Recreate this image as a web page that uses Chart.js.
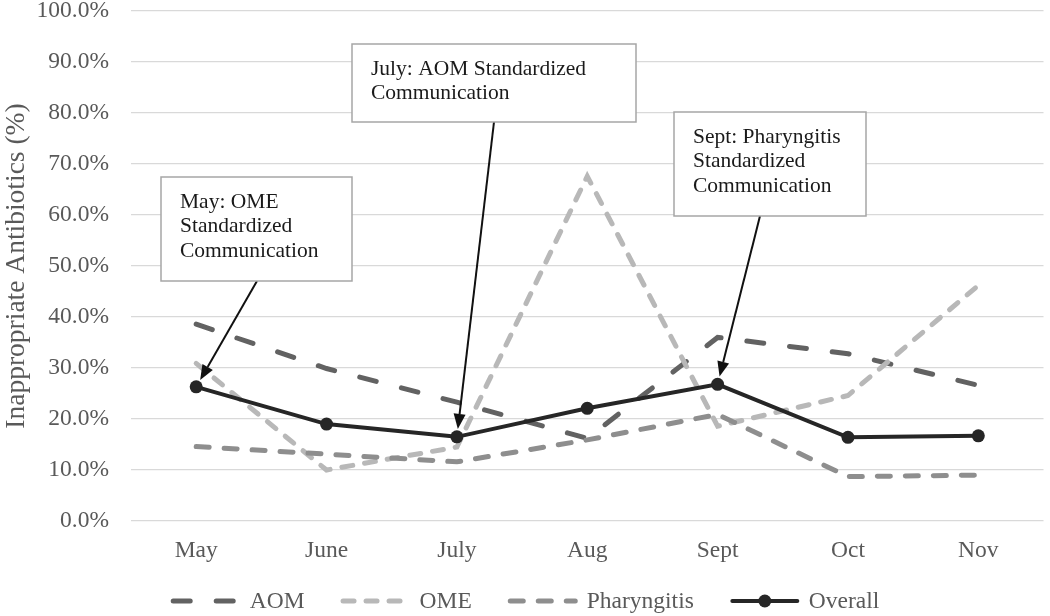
<!DOCTYPE html>
<html>
<head>
<meta charset="utf-8">
<script src="https://cdn.jsdelivr.net/npm/chart.js@4.4.1/dist/chart.umd.min.js"></script>
<style>
    html, body { margin: 0; padding: 0; background: #fff; }
    .wrap { width: 1050px; height: 616px; position: relative; }
</style>
</head>
<body>
<div class="wrap"><canvas id="abxChart"></canvas></div>
<script>
// Data
const months = ['May', 'June', 'July', 'Aug', 'Sept', 'Oct', 'Nov'];
const aom = [38.6, 29.9, 23.3, 16.2, 36.0, 32.8, 26.6];
const ome = [30.9, 10.0, 14.5, 67.6, 18.6, 24.6, 46.2];
const pharyngitis = [14.6, 13.1, 11.6, 15.9, 20.9, 8.7, 9.0];
const overall = [26.3, 19.0, 16.5, 22.1, 26.8, 16.4, 16.7];
const yMin = 0, yMax = 100, yStep = 10;

// Annotation texts (which month the arrow points at)
const notes = [
    { month: 'May', lines: ['May: OME', 'Standardized', 'Communication'] },
    { month: 'July', lines: ['July: AOM Standardized', 'Communication'] },
    { month: 'Sept', lines: ['Sept: Pharyngitis', 'Standardized', 'Communication'] }
];
// box placement on the canvas (ax = where the arrow leaves the bottom edge)
const noteBoxes = [
    { x: 161, y: 177, w: 191, h: 104, ax: 96 },
    { x: 352, y: 44, w: 284, h: 78, ax: 142 },
    { x: 674, y: 112, w: 192, h: 104, ax: 86 }
];

const serif = '"Liberation Serif", "Times New Roman", serif';
const axisGrey = '#595959';

// Callout boxes + arrows
const notesPlugin = {
    id: 'notes',
    afterDatasetsDraw(chart) {
        const { ctx, scales: { x, y } } = chart;
        notes.forEach((n, i) => {
            const b = noteBoxes[i];
            const idx = months.indexOf(n.month);
            const tx = x.getPixelForValue(idx);
            const ty = y.getPixelForValue(overall[idx]);
            const sx = b.x + b.ax, sy = b.y + b.h;
            const len = Math.hypot(tx - sx, ty - sy);
            const ux = (tx - sx) / len, uy = (ty - sy) / len;
            const ex = tx - ux * 8, ey = ty - uy * 8;
            const head = 15, hw = 6;

            ctx.save();
            ctx.strokeStyle = '#111';
            ctx.fillStyle = '#111';
            ctx.lineWidth = 2;
            ctx.beginPath();
            ctx.moveTo(sx, sy);
            ctx.lineTo(ex - ux * head, ey - uy * head);
            ctx.stroke();
            ctx.beginPath();
            ctx.moveTo(ex, ey);
            ctx.lineTo(ex - ux * head - uy * hw, ey - uy * head + ux * hw);
            ctx.lineTo(ex - ux * head + uy * hw, ey - uy * head - ux * hw);
            ctx.closePath();
            ctx.fill();

            ctx.fillStyle = '#fff';
            ctx.fillRect(b.x, b.y, b.w, b.h);
            ctx.strokeStyle = '#a6a6a6';
            ctx.lineWidth = 1.5;
            ctx.strokeRect(b.x, b.y, b.w, b.h);

            ctx.fillStyle = '#1a1a1a';
            ctx.font = '21.5px ' + serif;
            ctx.textBaseline = 'middle';
            ctx.textAlign = 'left';
            n.lines.forEach((t, j) => {
                ctx.fillText(t, b.x + 19, b.y + 25 + j * 24.5);
            });
            ctx.restore();
        });
    }
};

// Legend drawn by hand so the dashes and the marker show
const legendPlugin = {
    id: 'bottomLegend',
    afterDraw(chart) {
        const { ctx } = chart;
        const sample = 70, gapText = 9, gapItem = 36, cy = 601;
        ctx.save();
        ctx.font = '23.5px ' + serif;
        const items = chart.data.datasets;
        let total = 0;
        items.forEach((ds, i) => {
            total += sample + gapText + ctx.measureText(ds.label).width;
            if (i < items.length - 1) total += gapItem;
        });
        let cx = (chart.width - total) / 2;
        items.forEach(ds => {
            ctx.strokeStyle = ds.borderColor;
            ctx.lineWidth = ds.borderWidth;
            ctx.lineCap = ds.borderCapStyle || 'butt';
            ctx.setLineDash(ds.borderDash || []);
            ctx.beginPath();
            ctx.moveTo(cx + 2.5, cy);
            ctx.lineTo(cx + sample - 2.5, cy);
            ctx.stroke();
            ctx.setLineDash([]);
            if (ds.pointRadius) {
                ctx.fillStyle = ds.pointBackgroundColor;
                ctx.beginPath();
                ctx.arc(cx + sample / 2, cy, ds.pointRadius, 0, Math.PI * 2);
                ctx.fill();
            }
            ctx.fillStyle = axisGrey;
            ctx.textBaseline = 'middle';
            ctx.textAlign = 'left';
            ctx.fillText(ds.label, cx + sample + gapText, cy + 1);
            cx += sample + gapText + ctx.measureText(ds.label).width + gapItem;
        });
        ctx.restore();
    }
};

const lineBase = {
    borderWidth: 5,
    borderCapStyle: 'round',
    pointRadius: 0,
    pointHoverRadius: 0,
    fill: false,
    tension: 0
};

new Chart(document.getElementById('abxChart'), {
    type: 'line',
    data: {
        labels: months,
        datasets: [
            { ...lineBase, label: 'AOM', data: aom, borderColor: '#626262', borderDash: [17, 26], order: 3 },
            { ...lineBase, label: 'OME', data: ome, borderColor: '#b8b8b8', borderDash: [11, 12], order: 2 },
            { ...lineBase, label: 'Pharyngitis', data: pharyngitis, borderColor: '#8e8e8e', borderDash: [13, 15], order: 1 },
            {
                label: 'Overall', data: overall, order: 0,
                borderColor: '#262626', borderWidth: 4, borderCapStyle: 'round',
                pointRadius: 6.5, pointBackgroundColor: '#262626', pointBorderWidth: 0,
                fill: false, tension: 0
            }
        ]
    },
    options: {
        responsive: true,
        maintainAspectRatio: false,
        animation: false,
        layout: { padding: { top: 0, right: 1, bottom: 45, left: 0 } },
        plugins: {
            legend: { display: false },
            tooltip: { enabled: false }
        },
        scales: {
            x: {
                offset: true,
                grid: { display: false, drawTicks: false },
                border: { display: false },
                ticks: { color: axisGrey, font: { family: serif, size: 23.5 }, padding: 16 },
                afterFit: s => { s.height = 50; }
            },
            y: {
                min: yMin,
                max: yMax,
                border: { display: false },
                grid: { color: '#d9d9d9', lineWidth: 1.3, drawTicks: false },
                ticks: {
                    stepSize: yStep,
                    color: axisGrey,
                    font: { family: serif, size: 23.5 },
                    padding: 22,
                    callback: v => v.toFixed(1) + '%'
                },
                title: {
                    display: true,
                    text: 'Inappropriate Antibiotics (%)',
                    color: axisGrey,
                    font: { family: serif, size: 27.5 },
                    padding: { top: 0, bottom: 0 }
                },
                afterFit: s => {
                    s.width = 131;
                    s.paddingTop = 11;
                    s.paddingBottom = 0;
                }
            }
        }
    },
    plugins: [notesPlugin, legendPlugin]
});
</script>
</body>
</html>
